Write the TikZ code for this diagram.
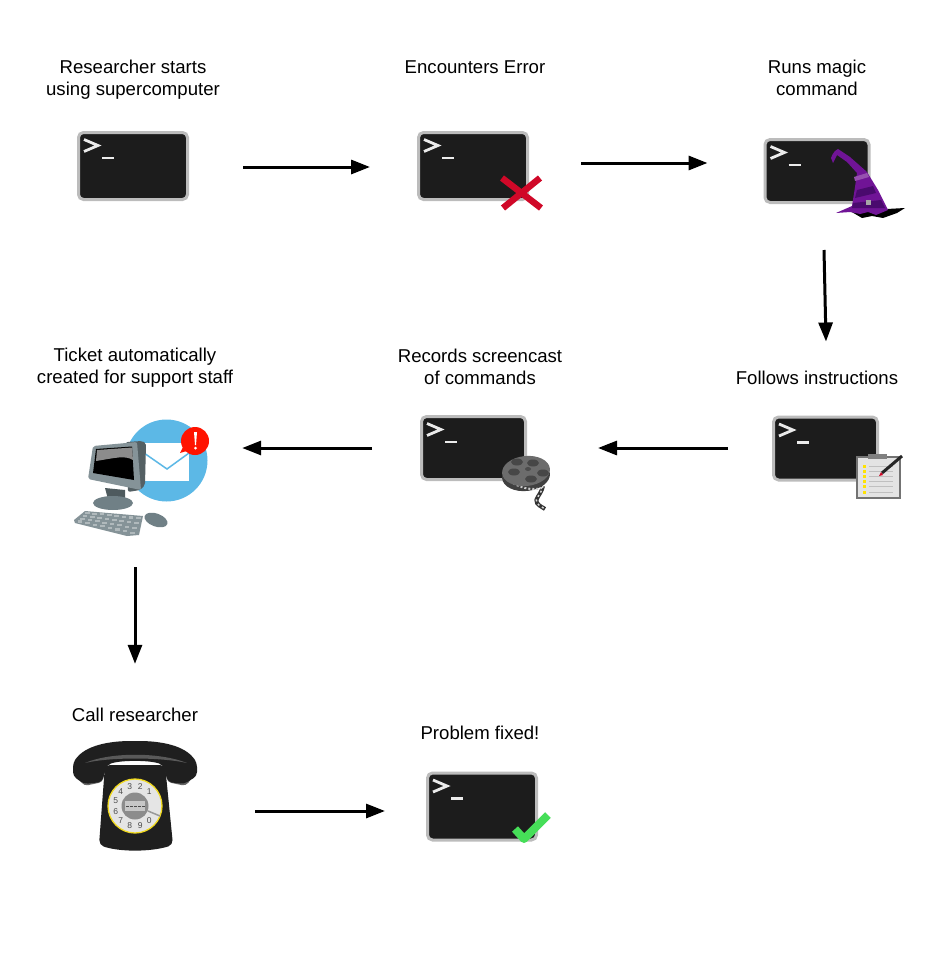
\documentclass[tikz,border=0pt]{standalone}
\usepackage{fontspec}
\setmainfont{Liberation Sans}
\usetikzlibrary{positioning,arrows.meta}
\definecolor{screen}{RGB}{28, 28, 28}
\definecolor{frame}{RGB}{188, 188, 188}
\definecolor{crossred}{RGB}{208, 8, 40}
\definecolor{tickgreen}{RGB}{70, 222, 88}
\definecolor{hatdark}{RGB}{74, 10, 110}
\definecolor{hatmid}{RGB}{112, 20, 150}
\definecolor{hatlight}{RGB}{150, 80, 175}
\definecolor{mailblue}{RGB}{92, 184, 230}
\definecolor{steel}{RGB}{112, 128, 134}
\definecolor{reel}{RGB}{108, 108, 108}
\tikzset{
  termbox/.style={rectangle, rounded corners=5pt, draw=frame, fill=screen, line width=3pt, minimum width=109pt, minimum height=67pt, inner sep=0},
  smallterm/.style={termbox, minimum width=104pt, minimum height=63pt},
  iconbox/.style={rectangle, inner sep=0, minimum width=#1},
  caption/.style={align=center, inner sep=0, font=\fontsize{18.6}{22}\selectfont},
  flow/.style={-{Triangle[length=19pt,width=14pt]}, line width=3pt, black},
  promptline/.style={draw=white!92!black, line width=2.8pt}
}
\begin{document}
\begin{tikzpicture}[x=1pt,y=-1pt]
\useasboundingbox (0,0) rectangle (947,979);

\node[termbox] (term1) at (133,166) {};
\node[termbox] (term2) at (473,166) {};
\node[smallterm] (term3) at (817,171) {};
\node[smallterm] (term4) at (825.5,448.5) {};
\node[smallterm] (term5) at (473.5,448) {};
\node[termbox] (term6) at (482,806.5) {};
\node[iconbox=135pt, minimum height=118pt] (mail) at (140,476) {};
\node[iconbox=126pt, minimum height=110pt] (phone) at (135,796) {};

\node[caption] (cap1) at (133,80) {Researcher starts\\using supercomputer};
\node[caption] (cap2) at (475,67) {Encounters Error};
\node[caption] (cap3) at (817,78) {Runs magic\\command};
\node[caption] (cap4) at (817,378) {Follows instructions};
\node[caption] (cap5) at (480,366.5) {Records screencast\\of commands};
\node[caption] (cap6) at (135,367.5) {Ticket automatically\\created for support staff};
\node[caption] (cap7) at (135,715) {Call researcher};
\node[caption] (cap8) at (480,733) {Problem fixed!};

\foreach \t in {term1,term2,term3,term4,term5,term6} {
  \draw[promptline, line join=miter] ([shift={(7,8.5)}]\t.north west) -- ++(14,6) -- ++(-14,6);
  \draw[promptline] ([shift={(25,27)}]\t.north west) -- ++(12,0);
}

% cross
\draw[crossred, line width=6.5pt] (502,178) -- (541,208);
\draw[crossred, line width=6.5pt] (540,178) -- (503,208);

% tick
\draw[tickgreen, line width=8pt, line join=round] (515,829) -- (524,839) -- (548,815);

% hat
\fill[black] (850,211) -- (905,208) -- (897,213) -- (883,218) -- (872,216) -- (862,218) -- cycle;
\fill[hatmid] (831,158) .. controls (833,152) and (836,150) .. (838,149) -- (850,157) -- (867,172) -- (878,190) -- (888,210) -- (876,215) -- (868,212) -- (860,214) -- (850,212) -- (836,213) -- (852,206) -- (855,187) -- (857,173) -- (847,162) -- (837,155) -- (833,163) -- cycle;
\fill[hatlight] (854,177) -- (867,173) -- (869,177) -- (855,181) -- cycle;
\fill[hatdark] (857,190) -- (873,186) -- (876,193) -- (855,198) -- cycle;
\fill[hatdark] (853,203) -- (881,200) -- (885,208) -- (852,208) -- cycle;
\fill[gray!70] (866,200) rectangle (871,205);

% film reel
\draw[black!80, line width=4pt] (543,486) .. controls (541,495) and (534,499) .. (537,503) .. controls (540,507) and (543,507) .. (545,509);
\draw[white!85!black, line width=1.5pt, dash pattern=on 2pt off 3pt] (543,486) .. controls (541,495) and (534,499) .. (537,503) .. controls (540,507) and (543,507) .. (545,509);
\fill[black!75, rotate around={6:(526,476)}] (526,476) ellipse (24pt and 15pt);
\draw[white!80!black, line width=2pt, dash pattern=on 2pt off 2pt] (510,481) .. controls (518,487) and (530,491) .. (542,488);
\fill[reel, rotate around={6:(526,471)}] (526,471) ellipse (24pt and 15pt);
\foreach \hx/\hy in {517/462,533/463,514/472,543/473,531/479} {
  \fill[black!72] (\hx,\hy) ellipse (6pt and 3.5pt);
}
\fill[black!70] (528,469) ellipse (3pt and 2pt);

% clipboard
\draw[gray!90!black, fill=black!11, line width=1.3pt] (857,457) rectangle (900,498);
\fill[black!50] (868,454) rectangle (887,458.5);
\foreach \iy in {466,471,476,481,486,492} {
  \fill[yellow!85!orange] (863,\iy-1.5) rectangle (866,\iy+1.5);
  \draw[black!25, line width=0.8pt] (869,\iy) -- (893,\iy);
}
\draw[black!85, line width=3pt] (882,473) -- (902,456);
\fill[crossred] (879,476) -- (881,472) -- (883,475) -- cycle;

% mail and computer
\fill[mailblue] (166.5,460.5) circle (41pt);
\fill[white] (143,443) rectangle (189,481);
\draw[mailblue, line width=1.5pt] (144,453) -- (167,469) -- (189,453);
\fill[red!85!orange] (180,453) -- (184,445) -- (190,450) -- cycle;
\fill[red!85!orange] (195,441) circle (14pt);
\fill[white] (194,432) -- (197,432) -- (196,445) -- (195,445) -- cycle;
\fill[white] (195.5,448) circle (1.5pt);
\fill[steel!70!black] (105,488) -- (125,490) -- (125,503) -- (109,503) -- cycle;
\fill[steel] (113,503) ellipse (20pt and 7pt);
\fill[steel!75!black, rounded corners=2pt] (126,442) -- (142,441) -- (146,443) -- (145,485) -- (140,490) -- (128,492) -- cycle;
\fill[steel!85!white, rounded corners=2pt] (93,446) -- (137,442) -- (141,490) -- (88,479) -- cycle;
\fill[black] (96,449) -- (132,446.5) -- (134,480) -- (93,473) -- cycle;
\fill[black!45] (97,450) -- (132,447.5) -- (133,460) .. controls (125,455) and (115,458) .. (96,461) -- cycle;
\fill[steel!85!white] (74,520) -- (85,511) -- (143,516) -- (139,535) -- (127,536) -- (75,523) -- cycle;
\foreach \kr in {0,1,2,3} {
  \foreach \kc in {0,...,7} {
    \pgfmathsetmacro{\ku}{(\kc+0.5)/8}
    \pgfmathsetmacro{\kv}{(\kr+0.5)/4}
    \fill[white!45!steel] ({85+58*\ku-10*\kv+2*\ku*\kv-2.2},{511+5*\ku+11*\kv+9*\ku*\kv-1}) rectangle ++(4.6,2.2);
  }
}
\fill[steel, rotate around={-20:(156,520)}] (156,520) ellipse (12pt and 6.5pt);

% telephone
\fill[black!88, rounded corners=5pt] (105,765) -- (165,765) -- (173,845) .. controls (150,852) and (120,852) .. (99,845) -- cycle;
\fill[black!60, rounded corners=4pt] (74,772) -- (84,786) -- (103,782) -- (104,772) -- cycle;
\fill[black!60, rounded corners=4pt] (196,772) -- (186,786) -- (167,782) -- (166,772) -- cycle;
\fill[black!88, rounded corners=4pt] (73,763) .. controls (85,745) and (110,741) .. (135,741) .. controls (160,741) and (185,745) .. (197,763) -- (197,776) -- (184,784) -- (168,782) -- (163,765) .. controls (150,760) and (120,760) .. (107,765) -- (102,782) -- (84,784) -- (73,776) -- cycle;
\fill[black!65] (85,763) .. controls (110,752) and (160,752) .. (187,763) .. controls (160,757) and (110,757) .. (85,763) -- cycle;
\draw[yellow!75!brown, fill=white!90!black, line width=1.3pt] (135,806) circle (27pt);
\fill[black!45] (135,806) circle (13.5pt);
\fill[black!22] (125,801) rectangle (145,811);
\draw[black!70, line width=1pt, dash pattern=on 3pt off 1pt] (126,806) -- (145,806);
\foreach \d [count=\i from 0] in {1,2,3,4,5,6,7,8,9,0} {
  \node[inner sep=0, text=black!70, font=\fontsize{8.5}{9}\selectfont] (dig\i) at ({135+20*cos(45+30*\i)},{806-20*sin(45+30*\i)}) {\d};
}
\draw[black!40, line width=1.5pt] (148,811) -- (160,816);

\draw[flow] ([xshift=54pt,yshift=-1pt]term1.east) -- ([xshift=-47pt,yshift=-1pt]term2.west);
\draw[flow] ([xshift=52pt,yshift=3pt]term2.east) -- ([xshift=-56pt,yshift=8pt]term3.west);
\draw[flow] ([xshift=7pt,yshift=-46pt]term3.south) -- ([xshift=0.5pt,yshift=74pt]term4.north);
\draw[flow] ([xshift=-44pt,yshift=0.5pt]term4.west) -- ([xshift=71pt]term5.east);
\draw[flow] ([xshift=-48pt]term5.west) -- ([xshift=34.5pt]mail.east |- term5.west);
\draw[flow] ([xshift=-5pt,yshift=-32pt]mail.south) -- ([yshift=77pt]phone.north);
\draw[flow] ([xshift=57pt,yshift=-15pt]phone.east) -- ([xshift=-41pt,yshift=-4.5pt]term6.west);
\end{tikzpicture}
\end{document}
